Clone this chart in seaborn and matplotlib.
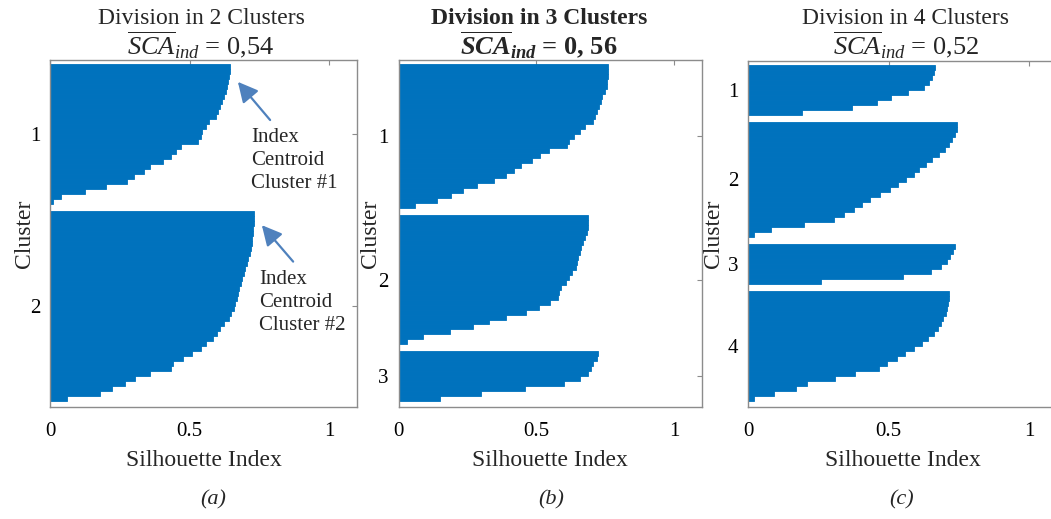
import numpy as np
import pandas as pd
import matplotlib
matplotlib.use("Agg")
import matplotlib.pyplot as plt
import seaborn as sns

# ---------------- data (silhouette values, sorted within each cluster) ----------------
a_c1 = [0.645, 0.645, 0.643, 0.638, 0.635, 0.630, 0.624, 0.616, 0.608, 0.602, 0.595, 0.570,
        0.558, 0.545, 0.540, 0.530, 0.468, 0.452, 0.434, 0.405, 0.360, 0.338, 0.300, 0.275,
        0.200, 0.125, 0.040, 0.012]
a_c2 = [0.731, 0.731, 0.730, 0.729, 0.727, 0.725, 0.722, 0.719, 0.716, 0.711, 0.705, 0.699,
        0.694, 0.688, 0.683, 0.678, 0.674, 0.670, 0.664, 0.658, 0.650, 0.643, 0.622, 0.610,
        0.600, 0.585, 0.560, 0.540, 0.510, 0.478, 0.442, 0.432, 0.360, 0.305, 0.268, 0.222,
        0.180, 0.060]
b_c1 = [0.761, 0.761, 0.760, 0.758, 0.755, 0.748, 0.740, 0.733, 0.727, 0.720, 0.712, 0.704,
        0.678, 0.657, 0.635, 0.620, 0.610, 0.545, 0.513, 0.485, 0.445, 0.420, 0.390, 0.345,
        0.285, 0.235, 0.190, 0.140, 0.060]
b_c2 = [0.689, 0.689, 0.687, 0.684, 0.678, 0.670, 0.663, 0.657, 0.652, 0.648, 0.643, 0.628,
        0.618, 0.606, 0.590, 0.583, 0.578, 0.548, 0.511, 0.463, 0.390, 0.330, 0.270, 0.186,
        0.090, 0.030]
b_c3 = [0.725, 0.720, 0.707, 0.697, 0.688, 0.660, 0.600, 0.460, 0.300, 0.150]
c_c1 = [0.667, 0.662, 0.653, 0.643, 0.625, 0.570, 0.510, 0.460, 0.370, 0.190]
c_c2 = [0.744, 0.742, 0.738, 0.726, 0.714, 0.700, 0.680, 0.656, 0.632, 0.608, 0.590, 0.563,
        0.535, 0.505, 0.470, 0.435, 0.405, 0.378, 0.340, 0.305, 0.200, 0.080, 0.020]
c_c3 = [0.738, 0.728, 0.718, 0.708, 0.685, 0.652, 0.550, 0.260]
c_c4 = [0.714, 0.714, 0.713, 0.709, 0.703, 0.694, 0.686, 0.676, 0.660, 0.642, 0.620, 0.590,
        0.560, 0.530, 0.494, 0.465, 0.380, 0.310, 0.210, 0.170, 0.090, 0.020]

titles = ["Division in 2 Clusters", "Division in 3 Clusters", "Division in 4 Clusters"]
sca_values = ["0,54", "0, 56", "0,52"]
panel_tags = ["(a)", "(b)", "(c)"]
x_ticks = [0, 0.5, 1]
x_tick_labels = ["0", "0.5", "1"]

# ---------------- style ----------------
sns.set_theme(style="white")
plt.rcParams["font.family"] = ["Liberation Serif", "DejaVu Serif"]
plt.rcParams["mathtext.fontset"] = "custom"
plt.rcParams["mathtext.rm"] = "Liberation Serif"
plt.rcParams["mathtext.it"] = "Liberation Serif:italic"
plt.rcParams["mathtext.bf"] = "Liberation Serif:bold"
plt.rcParams["mathtext.bfit"] = "Liberation Serif:bold:italic"

BAR = "#0072BD"
EDGE = "#8c8c8c"
ARROW = "#4f81bd"
W, H = 1051, 519
GAP = 1.4
PAD_T, PAD_B = 0.8, 1.2

panels = [
    dict(clusters=[a_c1, a_c2], left=50, right=357, top=60, bottom=407, tcx=201, bold=False, ylab_x=35),
    dict(clusters=[b_c1, b_c2, b_c3], left=398.5, right=701.7, top=60, bottom=407, tcx=539, bold=True, ylab_x=381),
    dict(clusters=[c_c1, c_c2, c_c3, c_c4], left=748.3, right=1057, top=61, bottom=407, tcx=906, bold=False, ylab_x=724),
]
tag_x = [213, 551, 902]

fig = plt.figure(figsize=(W / 100, H / 100), dpi=100)

axes = []
for i, p in enumerate(panels):
    ax = fig.add_axes([p["left"] / W, (H - p["bottom"]) / H,
                       (p["right"] - p["left"]) / W, (p["bottom"] - p["top"]) / H])
    rows, centers = [], []
    y0 = 0.0
    for k, vals in enumerate(p["clusters"]):
        pos = y0 + np.arange(len(vals))
        rows += [(pp, v, k + 1) for pp, v in zip(pos, vals)]
        centers.append(pos.mean())
        y0 = pos[-1] + 1 + GAP
    df = pd.DataFrame(rows, columns=["pos", "value", "cluster"])
    sns.barplot(data=df, x="value", y="pos", orient="h", native_scale=True, width=1,
                color=BAR, saturation=1, errorbar=None, linewidth=0.6, edgecolor=BAR, ax=ax)
    last = df["pos"].max()
    ax.set_ylim(last + 0.5 + PAD_B, -0.5 - PAD_T)
    ax.set_xlim(0, 1.1)
    ax.set_xticks(x_ticks, labels=x_tick_labels)
    ax.set_yticks(centers, labels=[str(k + 1) for k in range(len(centers))])
    for s in ax.spines.values():
        s.set_color(EDGE)
        s.set_linewidth(1.0)
        s.set_visible(True)
    ax.tick_params(direction="in", length=3.5, width=0.8, color=EDGE, labelcolor="black",
                   top=True, right=True, labelsize=15)
    ax.tick_params(axis="x", pad=11)
    ax.tick_params(axis="y", pad=7)
    ax.set_xlabel("Silhouette Index", fontsize=17, labelpad=6)
    ax.set_ylabel("Cluster", fontsize=17)
    ax.yaxis.set_label_coords((p["ylab_x"] - p["left"]) / (p["right"] - p["left"]), 0.5)
    ax.grid(False)

    weight = "bold" if p["bold"] else "normal"
    fig.text(p["tcx"] / W, 1 - 24 / H, titles[i], ha="center", va="baseline",
             fontsize=17, fontweight=weight)
    if p["bold"]:
        line2 = r"$\overline{\mathbfit{SCA}}_{\mathbfit{ind}}$ = " + sca_values[i]
    else:
        line2 = r"$\overline{SCA}_{ind}$ = " + sca_values[i]
    fig.text(p["tcx"] / W, 1 - 54 / H, line2, ha="center", va="baseline",
             fontsize=19, fontweight=weight)
    fig.text(tag_x[i] / W, 1 - 500 / H, panel_tags[i], ha="center", va="center",
             fontsize=16, fontstyle="italic")
    axes.append(ax)

# annotations in panel (a)
ax = axes[0]
arrow_kw = dict(arrowstyle="-|>,head_length=0.55,head_width=0.28", color=ARROW, lw=1.6,
                mutation_scale=22, shrinkA=0, shrinkB=0)
ax.annotate("", xy=(0.612, 0.937), xytext=(0.717, 0.827), xycoords="axes fraction",
            arrowprops=arrow_kw)
ax.text(0.654, 0.805, "Index\nCentroid\nCluster #1", transform=ax.transAxes,
        ha="left", va="top", fontsize=15, linespacing=1.3)
ax.annotate("", xy=(0.690, 0.524), xytext=(0.792, 0.419), xycoords="axes fraction",
            arrowprops=arrow_kw)
ax.text(0.682, 0.395, "Index\nCentroid\nCluster #2", transform=ax.transAxes,
        ha="left", va="top", fontsize=15, linespacing=1.3)

fig.savefig("out.png", dpi=100)
